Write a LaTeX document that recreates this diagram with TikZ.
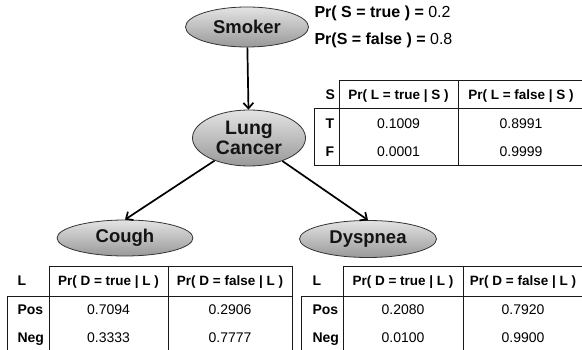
\documentclass[tikz,border=0pt]{standalone}
\usepackage{fontspec}
\setmainfont{Liberation Sans}
\usetikzlibrary{shapes.geometric,arrows.meta}
\begin{document}
\begin{tikzpicture}[x=1pt,y=-1pt,
  varnode/.style={ellipse, draw=black!80, line width=0.8pt,
    top color=gray!22, bottom color=gray!80, inner sep=0pt,
    font=\fontsize{18.5}{20.5}\selectfont\bfseries, text=black!92},
  edge/.style={line width=1.7pt, -{Straight Barb[length=5.5pt,width=10pt]}},
  rule/.style={line width=0.8pt, draw=black!90},
  hdr/.style={font=\fontsize{13.5}{15}\selectfont\bfseries, anchor=base},
  hdrl/.style={font=\fontsize{14}{16}\selectfont\bfseries, anchor=base west},
  val/.style={font=\fontsize{14}{16}\selectfont, anchor=base},
  prior/.style={font=\fontsize{16}{18}\selectfont, anchor=base west}
]
\useasboundingbox (0,0) rectangle (582,350);

% network nodes
\node[varnode, minimum width=123pt, minimum height=40pt] (smoker) at (247,27) {Smoker};
\node[varnode, minimum width=113pt, minimum height=56pt, align=center,
      font=\fontsize{19.5}{20.5}\selectfont\bfseries] (lung) at (249,138) {Lung\\Cancer};
\node[varnode, minimum width=136pt, minimum height=36pt] (cough) at (125,238) {Cough};
\node[varnode, minimum width=137pt, minimum height=37pt] (dysp) at (368,239) {Dyspnea};

% dependencies
\draw[edge] (smoker) -- (lung);
\draw[edge] (lung) -- (cough.north);
\draw[edge] (lung) -- (dysp.north);

% prior of S
\node[prior] (ptrue) at (311,17.5) {\textbf{Pr( S = true ) =} 0.2};
\node[prior] (pfalse) at (311,44.5) {\textbf{Pr(S = false ) =} 0.8};

% CPT of L given S
\draw[rule] (339,80) -- (582,80);
\draw[rule] (314,108) -- (582,108);
\draw[rule] (314,165) -- (582,165);
\draw[rule] (314,108) -- (314,165);
\draw[rule] (339,80) -- (339,165);
\draw[rule] (458,80) -- (458,165);
\node[hdrl] (lh0) at (322,99.8) {S};
\node[hdr] (lh1) at (398.5,99.8) {Pr( L = true | S )};
\node[hdr] (lh2) at (521,99.8) {Pr( L = false | S )};
\node[hdrl] (lr1) at (322,128.8) {T};
\node[val] (lv11) at (398.5,128.8) {0.1009};
\node[val] (lv12) at (521,128.8) {0.8991};
\node[hdrl] (lr2) at (322,156.8) {F};
\node[val] (lv21) at (398.5,156.8) {0.0001};
\node[val] (lv22) at (521,156.8) {0.9999};

% CPT of Cough given L
\draw[rule] (49,266) -- (292,266);
\draw[rule] (7,296) -- (292,296);
\draw[rule] (7,296) -- (7,350);
\draw[rule] (49,266) -- (49,350);
\draw[rule] (168,266) -- (168,350);
\draw[rule] (292,266) -- (292,350);
\node[hdrl] (ch0) at (14,285.8) {L};
\node[hdr] (ch1) at (108.5,285.8) {Pr( D = true | L )};
\node[hdr] (ch2) at (230,285.8) {Pr( D = false | L )};
\node[hdrl] (cr1) at (14,314.8) {Pos};
\node[val] (cv11) at (108.5,314.8) {0.7094};
\node[val] (cv12) at (230,314.8) {0.2906};
\node[hdrl] (cr2) at (14,342.8) {Neg};
\node[val] (cv21) at (108.5,342.8) {0.3333};
\node[val] (cv22) at (230,342.8) {0.7777};

% CPT of Dyspnea given L
\draw[rule] (343,266) -- (582,266);
\draw[rule] (301,296) -- (582,296);
\draw[rule] (301,296) -- (301,350);
\draw[rule] (343,266) -- (343,350);
\draw[rule] (463,266) -- (463,350);
\node[hdrl] (dh0) at (309,285.8) {L};
\node[hdr] (dh1) at (403,285.8) {Pr( D = true | L )};
\node[hdr] (dh2) at (523,285.8) {Pr( D = false | L )};
\node[hdrl] (dr1) at (309,314.8) {Pos};
\node[val] (dv11) at (403,314.8) {0.2080};
\node[val] (dv12) at (523,314.8) {0.7920};
\node[hdrl] (dr2) at (309,342.8) {Neg};
\node[val] (dv21) at (403,342.8) {0.0100};
\node[val] (dv22) at (523,342.8) {0.9900};
\end{tikzpicture}
\end{document}
